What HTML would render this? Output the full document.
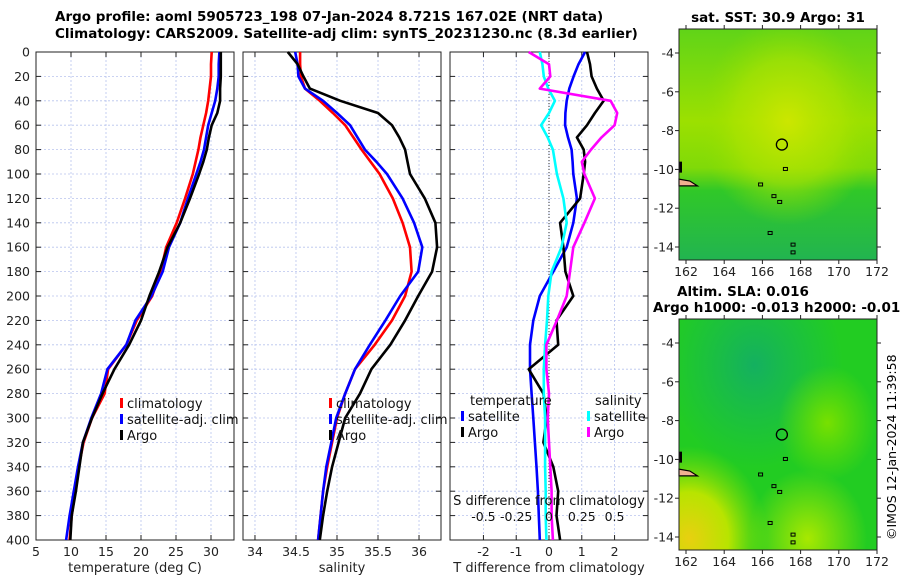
<!DOCTYPE html>
<html><head><meta charset="utf-8">
<style>
body{margin:0;background:#fff;}
svg{display:block;font-family:"DejaVu Sans","Liberation Sans",sans-serif;}
</style></head>
<body>
<svg id="fig" width="900" height="580" viewBox="0 0 900 580" xmlns="http://www.w3.org/2000/svg">
<defs>
<radialGradient id="sstY" cx="0.55" cy="0.4" r="0.45"><stop offset="0" stop-color="#d4e800" stop-opacity="0.85"/><stop offset="0.6" stop-color="#b0e400" stop-opacity="0.6"/><stop offset="1" stop-color="#90de00" stop-opacity="0"/></radialGradient>
<linearGradient id="sstBase" x1="0" y1="0" x2="0" y2="1"><stop offset="0" stop-color="#60d418"/><stop offset="0.4" stop-color="#9ce000"/><stop offset="0.6" stop-color="#80da08"/><stop offset="0.7" stop-color="#30c828"/><stop offset="1" stop-color="#22b450"/></linearGradient>
<radialGradient id="slaT" cx="0.38" cy="0.2" r="0.45"><stop offset="0" stop-color="#14b060"/><stop offset="1" stop-color="#14b85a" stop-opacity="0"/></radialGradient>
<radialGradient id="slaY" cx="0.05" cy="0.95" r="0.4"><stop offset="0" stop-color="#e8d010"/><stop offset="0.5" stop-color="#b8e400"/><stop offset="1" stop-color="#80e000" stop-opacity="0"/></radialGradient>
<radialGradient id="slaY2" cx="0.65" cy="0.95" r="0.3"><stop offset="0" stop-color="#a8e800"/><stop offset="1" stop-color="#a8e800" stop-opacity="0"/></radialGradient>
<radialGradient id="slaY3" cx="0.75" cy="0.45" r="0.25"><stop offset="0" stop-color="#78e000"/><stop offset="1" stop-color="#6ee000" stop-opacity="0"/></radialGradient>
</defs>
<g id="plots"></g>
<g id="maps"></g>
<g font-weight="bold" font-size="13.5" fill="#000">
<text x="55" y="21">Argo profile: aoml 5905723_198 07-Jan-2024 8.721S 167.02E (NRT data)</text>
<text x="55" y="38">Climatology: CARS2009. Satellite-adj clim: synTS_20231230.nc (8.3d earlier)</text>
<text x="778" y="22" text-anchor="middle">sat. SST: 30.9 Argo: 31</text>
<text x="743" y="296" text-anchor="middle">Altim. SLA: 0.016</text>
<text x="653" y="312">Argo h1000: -0.013 h2000: -0.017</text>
</g>
<text transform="translate(896,540) rotate(-90)" font-size="12.5">©IMOS 12-Jan-2024 11:39:58</text>
</svg>
<script>
// ---- data ----
const depths = [0,10,20,30,40,50,60,70,80,90,100,120,140,160,180,200,220,240,260,280,300,320,340,360,380,400];
const tempClim = [30.1,30.0,30.0,29.8,29.6,29.3,28.9,28.5,28.2,27.8,27.4,26.3,25.1,23.6,22.8,21.6,19.4,17.9,15.3,14.8,13.0,11.8,11.1,10.6,10.1,9.8];
const tempSat  = [31.2,31.1,31.1,30.9,30.6,30.1,29.6,29.3,29.0,28.5,27.9,26.7,25.6,24.0,23.1,21.5,19.2,17.9,15.2,14.3,12.9,11.7,11.0,10.4,9.8,9.3];
const tempArgo = [31.4,31.4,31.4,31.3,31.3,30.9,30.1,29.7,29.4,28.9,28.3,27.0,25.6,23.8,22.6,21.2,20.0,18.3,16.2,14.5,13.0,11.7,11.2,10.7,10.1,9.9];
const salClim = [34.55,34.55,34.56,34.61,34.79,34.95,35.10,35.20,35.30,35.41,35.52,35.68,35.80,35.89,35.91,35.83,35.67,35.46,35.22,35.10,35.00,34.94,34.88,34.83,34.80,34.77];
const salSat  = [34.49,34.52,34.53,34.61,34.83,35.00,35.16,35.25,35.34,35.48,35.61,35.80,35.94,36.04,35.99,35.77,35.59,35.40,35.22,35.10,34.99,34.93,34.87,34.83,34.80,34.77];
const salArgo = [34.40,34.52,34.59,34.67,35.04,35.50,35.67,35.76,35.83,35.86,35.89,36.07,36.20,36.22,36.16,35.99,35.83,35.65,35.42,35.28,35.10,35.02,34.94,34.88,34.83,34.79];
const dTsat  = [1.10,0.90,0.75,0.62,0.54,0.50,0.49,0.58,0.69,0.72,0.74,0.85,0.74,0.54,0.13,-0.28,-0.48,-0.58,-0.58,-0.53,-0.48,-0.43,-0.38,-0.34,-0.31,-0.28];
const dTargo = [1.16,1.25,1.30,1.46,1.67,1.40,1.16,0.85,1.06,1.10,1.06,0.95,0.34,0.44,0.50,0.74,0.23,0.28,-0.62,-0.17,-0.07,-0.17,0.13,0.28,0.23,0.34];
const dSsat  = [-0.07,-0.05,-0.04,-0.005,0.045,0.0,-0.06,-0.01,0.03,0.045,0.06,0.11,0.135,0.095,0.02,-0.005,-0.015,-0.03,-0.04,-0.04,-0.03,-0.03,-0.03,-0.025,-0.025,-0.02];
const dSargo = [-0.155,0.0,0.01,-0.07,0.47,0.52,0.50,0.40,0.32,0.25,0.27,0.35,0.27,0.185,0.16,0.135,0.06,-0.02,-0.02,0.0,-0.01,0.0,0.01,0.02,0.02,0.03];
const depthTicks = [0,20,40,60,80,100,120,140,160,180,200,220,240,260,280,300,320,340,360,380,400];
const tempTicks = [5,10,15,20,25,30];
const salTicks = [34,34.5,35,35.5,36];
const salTickLabels = ['34','34.5','35','35.5','36'];
const dTTicks = [-2,-1,0,1,2];
const dSTicks = [-0.5,-0.25,0,0.25,0.5];
const dSTickLabels = ['-0.5','-0.25','0','0.25','0.5'];
const lonTicks = [162,164,166,168,170,172];
const latTicks = [-4,-6,-8,-10,-12,-14];

const NS='http://www.w3.org/2000/svg';
function mk(tag,attrs,parent,text){const e=document.createElementNS(NS,tag);for(const k in attrs)e.setAttribute(k,attrs[k]);if(text!==undefined)e.textContent=text;parent.appendChild(e);return e;}
const plots=document.getElementById('plots');
const top0=52,bot0=540;
const yD=d=>top0+(d/400)*(bot0-top0);

function panel(name,x0,x1,xmin,xmax){
  const g=mk('g',{},plots);
  
  
  return {g,x0,x1,sx:v=>x0+(v-xmin)/(xmax-xmin)*(x1-x0)};
}
function frame(p,xticks,xlabels,showDepth){
  const g=p.g;
  depthTicks.forEach(d=>{
    const l=mk('line',{x1:p.x0,x2:p.x1,y1:yD(d),y2:yD(d),stroke:'#b8c4ee','stroke-width':0.8,'stroke-dasharray':'2,2'},g);
    
    
    mk('line',{x1:p.x0,x2:p.x0+5,y1:yD(d),y2:yD(d),stroke:'#222'},g);
    mk('line',{x1:p.x1-5,x2:p.x1,y1:yD(d),y2:yD(d),stroke:'#222'},g);
    if(showDepth){
      const t=mk('text',{x:p.x0-6,y:yD(d)+4.5,'text-anchor':'end','font-size':12.5,fill:'#222'},g,String(d));
      
      
    }
  });
  xticks.forEach((v,i)=>{
    const x=p.sx(v);
    const l=mk('line',{x1:x,x2:x,y1:top0,y2:bot0,stroke:'#b8c4ee','stroke-width':0.8,'stroke-dasharray':'2,2'},g);
    
    
    mk('line',{x1:x,x2:x,y1:bot0,y2:bot0-5,stroke:'#222'},g);
    mk('line',{x1:x,x2:x,y1:top0,y2:top0+5,stroke:'#222'},g);
    const t=mk('text',{x:x,y:bot0+16,'text-anchor':'middle','font-size':12.5,fill:'#222'},g,xlabels[i]);
    
    
  });
  const r=mk('rect',{x:p.x0,y:top0,width:p.x1-p.x0,height:bot0-top0,fill:'none',stroke:'#222','stroke-width':1},g);
  
  
}
function line(p,vals,color,name,scale){
  const pts=vals.map((v,i)=>p.sx(v*(scale||1)).toFixed(1)+','+yD(depths[i]).toFixed(1)).join(' ');
  const l=mk('polyline',{points:pts,fill:'none',stroke:color,'stroke-width':2.6,'stroke-linejoin':'round'},p.g);
  
  
}
function legend(g,x,y,items){
  items.forEach((it,i)=>{
    const yy=y+i*16;
    if(it.c){mk('rect',{x:x,y:yy-10,width:3,height:10,fill:it.c},g);}
    const t=mk('text',{x:x+(it.c?7:0),y:yy,'font-size':13,fill:'#111'},g,it.t);
    
    
  });
}
// Panel 1 temperature
const p1=panel('temperature-panel',36,234,5,33.286);
frame(p1,tempTicks,tempTicks.map(String),true);
line(p1,tempClim,'#f00','temp-climatology-line');
line(p1,tempSat,'#00f','temp-satellite-line');
line(p1,tempArgo,'#000','temp-argo-line');
legend(p1.g,120,408,[{c:'#f00',t:'climatology'},{c:'#00f',t:'satellite-adj. clim'},{c:'#000',t:'Argo'}]);
mk('text',{x:135,y:572,'text-anchor':'middle','font-size':13,fill:'#222'},p1.g,'temperature (deg C)');
// Panel 2 salinity
const p2=panel('salinity-panel',243,441,33.854,36.268);
frame(p2,salTicks,salTickLabels,false);
line(p2,salClim,'#f00','sal-climatology-line');
line(p2,salSat,'#00f','sal-satellite-line');
line(p2,salArgo,'#000','sal-argo-line');
legend(p2.g,329,408,[{c:'#f00',t:'climatology'},{c:'#00f',t:'satellite-adj. clim'},{c:'#000',t:'Argo'}]);
mk('text',{x:342,y:572,'text-anchor':'middle','font-size':13,fill:'#222'},p2.g,'salinity');
// Panel 3 differences
const p3=panel('difference-panel',450,648,-3.02,3.02);
frame(p3,dTTicks,dTTicks.map(String),false);
mk('line',{x1:p3.sx(0),x2:p3.sx(0),y1:top0,y2:bot0,stroke:'#333','stroke-width':1,'stroke-dasharray':'1,2'},p3.g);
line(p3,dTsat,'#00f','tdiff-satellite-line');
line(p3,dTargo,'#000','tdiff-argo-line');
line(p3,dSsat,'#0ff','sdiff-satellite-line',4);
line(p3,dSargo,'#f0f','sdiff-argo-line',4);
legend(p3.g,470,405,[{t:'temperature'}]);
legend(p3.g,461,421,[{c:'#00f',t:'satellite'},{c:'#000',t:'Argo'}]);
legend(p3.g,595,405,[{t:'salinity'}]);
legend(p3.g,587,421,[{c:'#0ff',t:'satellite'},{c:'#f0f',t:'Argo'}]);
mk('text',{x:549,y:505,'text-anchor':'middle','font-size':13,fill:'#111'},p3.g,'S difference from climatology');
dSTicks.forEach((v,i)=>{
  const t=mk('text',{x:p3.sx(v*4),y:521,'text-anchor':'middle','font-size':12.5,fill:'#111'},p3.g,dSTickLabels[i]);
  
  
});
mk('text',{x:549,y:572,'text-anchor':'middle','font-size':13,fill:'#222'},p3.g,'T difference from climatology');

// Maps
const maps=document.getElementById('maps');
function map(name,y0,y1,layers,latTop){
  const x0=679,x1=877;
  const g=mk('g',{},maps);
  
  
  const lx=v=>686+(v-162)*19.1;
  const ly=v=>latTop+(-4-v)*19.4;
  mk('rect',{x:x0,y:y0,width:x1-x0,height:y1-y0,fill:layers[0]},g);
  layers.slice(1).forEach(f=>mk('rect',{x:x0,y:y0,width:x1-x0,height:y1-y0,fill:f},g));
  mk('path',{d:`M${x0} ${ly(-10.5)} L${lx(162.2)} ${ly(-10.6)} L${lx(162.6)} ${ly(-10.85)} L${x0} ${ly(-10.85)}Z`,fill:'#f0b090',stroke:'#000','stroke-width':1.2},g);
  mk('rect',{x:x0,y:ly(-9.6),width:3,height:11,fill:'#000'},g);
  [[165.8,-10.7],[166.8,-11.6],[167.5,-13.8],[167.5,-14.2],[166.5,-11.3],[167.1,-9.9],[166.3,-13.2]].forEach(c=>mk('rect',{x:lx(c[0]),y:ly(c[1]),width:4,height:3,fill:'none',stroke:'#000','stroke-width':1},g));
  const c=mk('circle',{cx:lx(167.02),cy:ly(-8.721),r:5.5,fill:'none',stroke:'#000','stroke-width':1.3},g);
  
  
  mk('rect',{x:x0,y:y0,width:x1-x0,height:y1-y0,fill:'none',stroke:'#222'},g);
  lonTicks.forEach(v=>{
    mk('line',{x1:lx(v),x2:lx(v),y1:y1,y2:y1+4,stroke:'#222'},g);
    mk('line',{x1:lx(v),x2:lx(v),y1:y0,y2:y0-4,stroke:'#222'},g);
    const t=mk('text',{x:lx(v),y:y1+16,'text-anchor':'middle','font-size':12.5,fill:'#222'},g,String(v));
    
    
  });
  latTicks.forEach(v=>{
    mk('line',{x1:x0,x2:x0-4,y1:ly(v),y2:ly(v),stroke:'#222'},g);
    mk('line',{x1:x1,x2:x1+4,y1:ly(v),y2:ly(v),stroke:'#222'},g);
    const t=mk('text',{x:x0-5,y:ly(v)+4.5,'text-anchor':'end','font-size':12.5,fill:'#222'},g,String(v));
    
    
  });
}
map('sst-map',29,260,['url(#sstBase)','url(#sstY)'],53);
map('sla-map',319,550,['#22cc22','url(#slaT)','url(#slaY)','url(#slaY2)','url(#slaY3)'],343);
</script>
</body></html>
